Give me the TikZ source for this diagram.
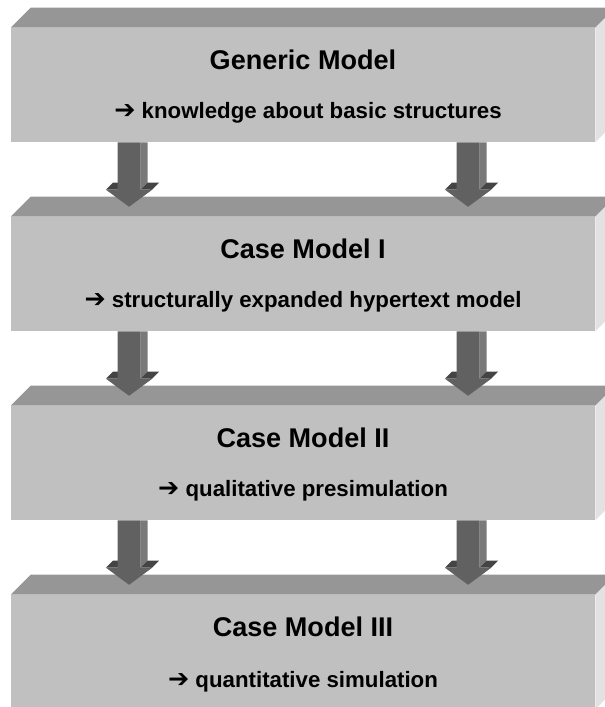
\documentclass[tikz,border=0pt]{standalone}
\usepackage{fontspec}
\setmainfont{Liberation Sans}
\newfontfamily\dingfont{DejaVu Sans}
\usepackage{tikz}
\usetikzlibrary{positioning, calc}

\definecolor{boxfront}{HTML}{C0C0C0}
\definecolor{boxtop}{HTML}{969696}
\definecolor{boxside}{HTML}{E2E2E2}
\definecolor{arrowfront}{HTML}{616161}
\definecolor{arrowside}{HTML}{797979}
\definecolor{arrowtop}{HTML}{444444}

% heavy arrow in front of the subtitles
\newcommand{\darr}{{\dingfont\bfseries\fontsize{19}{19}\selectfont ➔}}

% 3D box faces behind a front node
\newcommand{\boxfaces}[1]{%
  \fill[boxtop] (#1.north west) -- ++(20,-20) -- ($(#1.north east)+(20,-20)$) -- (#1.north east) -- cycle;
  \fill[boxside] (#1.north east) -- ++(20,-20) -- ($(#1.south east)+(20,-20)$) -- (#1.south east) -- cycle;
}

% thick 3D arrow: #1 offset from centre, #2 upper box, #3 lower box
\newcommand{\blockarrow}[3]{%
  \path let \p1=($(#2.south)+(#1,0)$), \p2=($(#3.north)+(#1,0)$) in
    \pgfextra{\xdef\arx{\x1}\xdef\ary{\y1}\xdef\arb{\y2}};
  \fill[arrowside] (\arx+8.625pt,\ary) -- (\arx+13.875pt,\ary) -- (\arx+13.875pt,\arb+25.5pt) -- (\arx+8.625pt,\arb+20.25pt) -- cycle;
  \fill[arrowside] (\arx+17.25pt,\arb+20.25pt) -- (\arx+22.5pt,\arb+25.5pt) -- (\arx+5.25pt,\arb+12.75pt) -- (\arx,\arb+7.5pt) -- cycle;
  \fill[arrowtop] (\arx-17.25pt,\arb+20.25pt) -- (\arx-12pt,\arb+25.5pt) -- (\arx-3.375pt,\arb+25.5pt) -- (\arx-8.625pt,\arb+20.25pt) -- cycle;
  \fill[arrowtop] (\arx+8.625pt,\arb+20.25pt) -- (\arx+13.875pt,\arb+25.5pt) -- (\arx+22.5pt,\arb+25.5pt) -- (\arx+17.25pt,\arb+20.25pt) -- cycle;
  \fill[arrowfront] (\arx-8.625pt,\ary) -- (\arx+8.625pt,\ary) -- (\arx+8.625pt,\arb+20.25pt) -- (\arx+17.25pt,\arb+20.25pt)
    -- (\arx,\arb+7.5pt) -- (\arx-17.25pt,\arb+20.25pt) -- (\arx-8.625pt,\arb+20.25pt) -- cycle;
}

\begin{document}
\begin{tikzpicture}[
    x=0.75pt,y=-0.75pt,
    modelbox/.style={rectangle, fill=boxfront, minimum width=438pt, minimum height=85.5pt, inner sep=0pt},
    title/.style={font=\fontsize{20.3}{24}\selectfont\bfseries, inner sep=0pt},
    subtitle/.style={font=\fontsize{16.7}{20}\selectfont\bfseries, inner sep=0pt}
]
    \clip (0,0) rectangle (605,707);

    % ================= BOXES =================
    \node[modelbox] (GENERIC) at (303, 85) {};
    \node[modelbox] (CASEI) at (303, 274) {};
    \node[modelbox] (CASEII) at (303, 463) {};
    \node[modelbox] (CASEIII) at (303, 652) {};

    \boxfaces{GENERIC}
    \boxfaces{CASEI}
    \boxfaces{CASEII}
    \boxfaces{CASEIII}

    % ================= TEXTS =================
    \node[title] (gen_t) at ($(GENERIC.north)+(0,32)$) {Generic Model};
    \node[subtitle] (gen_s) at ($(GENERIC.north)+(5,85)$) {\darr{} knowledge about basic structures};

    \node[title] (c1_t) at ($(CASEI.north)+(0,32)$) {Case Model I};
    \node[subtitle] (c1_s) at ($(CASEI.north)+(0,85)$) {\darr{} structurally expanded hypertext model};

    \node[title] (c2_t) at ($(CASEII.north)+(0,32)$) {Case Model II};
    \node[subtitle] (c2_s) at ($(CASEII.north)+(0,85)$) {\darr{} qualitative presimulation};

    \node[title] (c3_t) at ($(CASEIII.north)+(0,32)$) {Case Model III};
    \node[subtitle] (c3_s) at ($(CASEIII.north)+(0,87)$) {\darr{} quantitative simulation};

    % ================= ARROWS =================
    \blockarrow{-174}{GENERIC}{CASEI}
    \blockarrow{165}{GENERIC}{CASEI}
    \blockarrow{-174}{CASEI}{CASEII}
    \blockarrow{165}{CASEI}{CASEII}
    \blockarrow{-174}{CASEII}{CASEIII}
    \blockarrow{165}{CASEII}{CASEIII}

\end{tikzpicture}
\end{document}
